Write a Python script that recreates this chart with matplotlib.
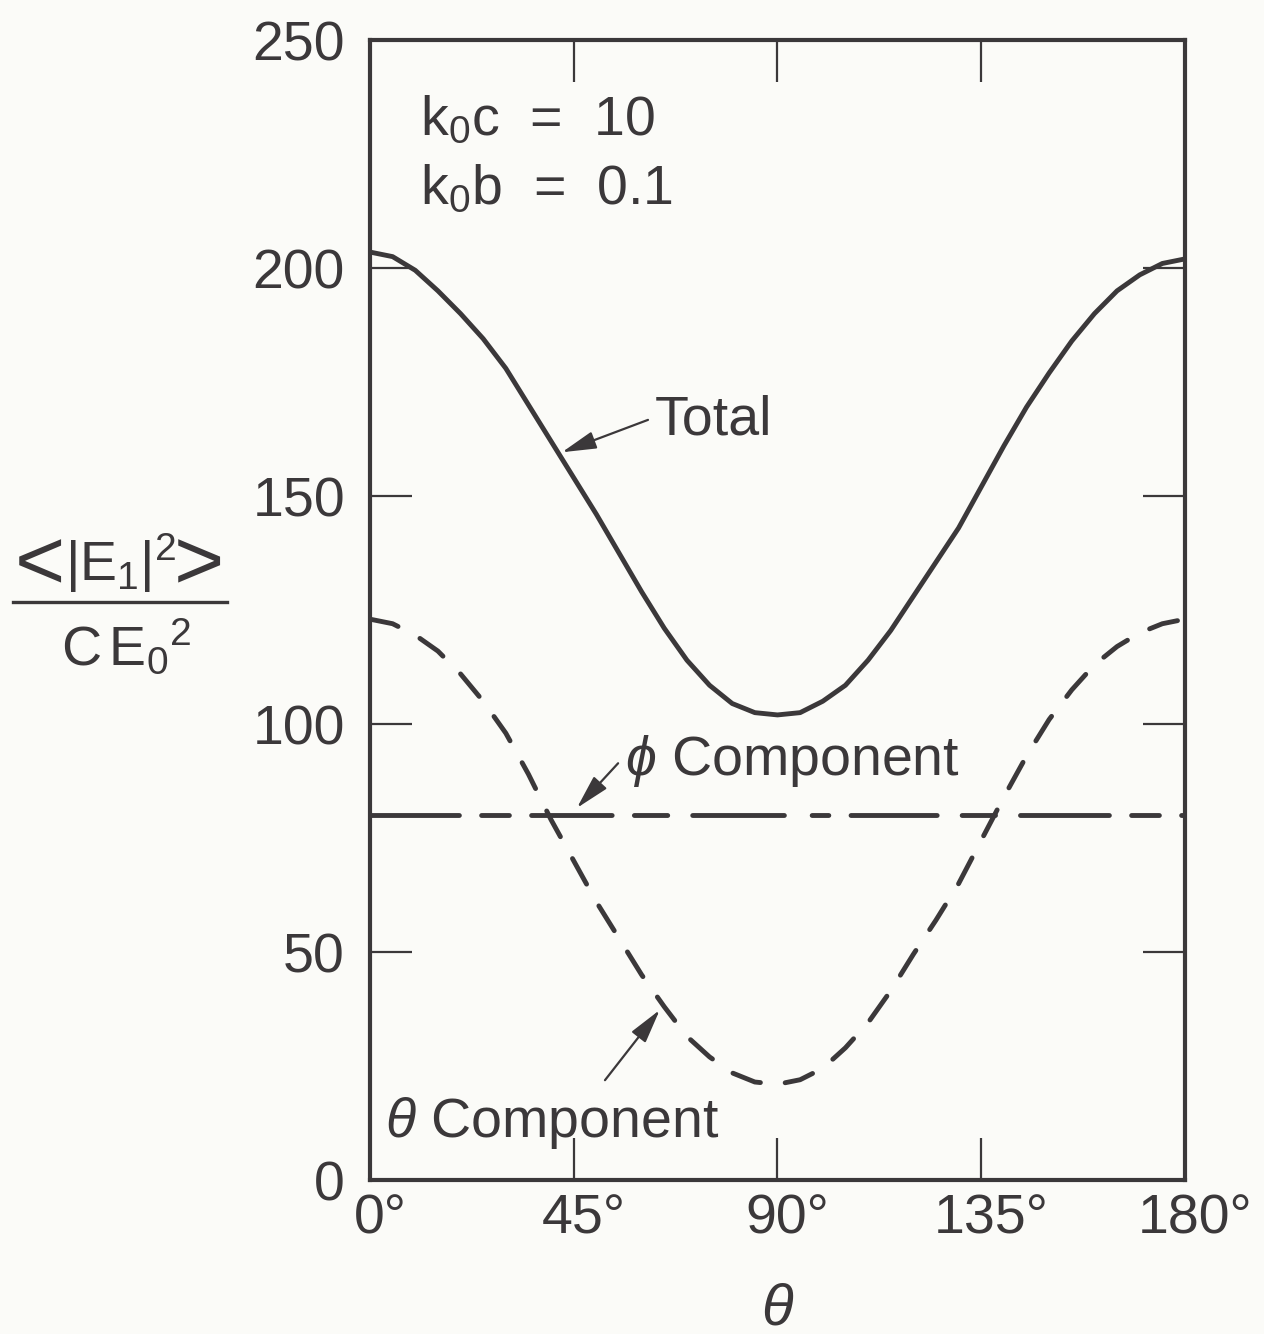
# theta_pattern.py
# Angular dependence of <|E1|^2> / (C E0^2): total, theta and phi components.

from matplotlib import pyplot as plt
from matplotlib.lines import Line2D
from matplotlib.transforms import ScaledTranslation

INK = '#3b383a'
PAPER = '#fbfbf8'

plt.rcParams['font.family'] = ['Liberation Sans', 'DejaVu Sans']
plt.rcParams['mathtext.fontset'] = 'custom'
plt.rcParams['mathtext.rm'] = 'Liberation Sans'
plt.rcParams['mathtext.it'] = 'Liberation Sans:italic'
plt.rcParams['mathtext.fallback'] = 'stixsans'
plt.rcParams['lines.scale_dashes'] = False

# values, every 5 degrees
theta_deg = list(range(0, 181, 5))
total = [203.5, 202.5, 199.5, 195, 190, 184.5, 178, 170, 162, 154,
         146, 137.5, 129, 121, 114, 108.5, 104.5, 102.5, 102,
         102.5, 105, 108.5, 114, 120.5, 128, 135.5, 143, 152, 161,
         169.5, 177, 184, 190, 195, 198.5, 201, 202]
theta_comp = [123, 122, 119.5, 116, 111, 105, 98, 89, 79, 70,
              61, 53, 45, 38, 31.5, 27, 23.5, 21.5, 21,
              22, 24.5, 29, 34.5, 41.5, 49.5, 57, 65, 74.5, 84,
              93, 101, 107.5, 113, 117, 120, 122, 123]
phi_theta = [0, 180]
phi_comp = [80, 80]

x_ticks = [0, 45, 90, 135, 180]
x_labels = ['0°', '45°', '90°', '135°', '180°']
y_ticks = [0, 50, 100, 150, 200, 250]

fig = plt.figure(figsize=(12.64, 13.34), dpi=100, facecolor=PAPER)
ax = fig.add_axes([0.2927, 0.1154, 0.6448, 0.8546], facecolor=PAPER)

ax.plot(theta_deg, total, color=INK, lw=3.5, solid_capstyle='round',
        solid_joinstyle='round')
ax.plot(theta_deg, theta_comp, color=INK, lw=3.5,
        dashes=(21, 18), dash_capstyle='round', dash_joinstyle='round')
ax.plot(phi_theta, phi_comp, color=INK, lw=3.5, dash_capstyle='round',
        dashes=(64, 16, 20, 16, 58, 16, 24, 18, 66, 20, 12, 16, 62, 18, 24, 18))

ax.set_xlim(0, 180)
ax.set_ylim(0, 250)
ax.set_xticks(x_ticks)
ax.set_xticklabels(x_labels)
ax.set_yticks(y_ticks)
ax.tick_params(direction='in', length=30, width=1.6, color=INK,
               top=True, right=True, labelsize=40, labelcolor=INK)
ax.tick_params(axis='y', pad=18)
ax.tick_params(axis='x', pad=10)
for s in ax.spines.values():
    s.set_linewidth(3)
    s.set_color(INK)

# number part of each degree label sits over its tick
shift = ScaledTranslation(10 / 100, 0, fig.dpi_scale_trans)
for lab in ax.get_xticklabels():
    lab.set_transform(lab.get_transform() + shift)

ax.set_xlabel(r'$\theta$', fontsize=42, color=INK, labelpad=26)

# parameter block
ax.text(11, 229, r'k$_0$c  =  10', fontsize=40, color=INK, va='baseline')
ax.text(11, 214, r'k$_0$b  =  0.1', fontsize=40, color=INK, va='baseline')

arrow = dict(arrowstyle='-|>,head_length=0.7,head_width=0.18',
             lw=1.6, color=INK, mutation_scale=30, shrinkA=0, shrinkB=0)
ax.text(63, 163.4, 'Total', fontsize=40, color=INK, va='baseline')
ax.annotate('', xy=(42.4, 159.6), xytext=(61.4, 166.7), arrowprops=arrow)
ax.text(56.3, 88.8, r'$\phi$ Component', fontsize=40, color=INK, va='baseline')
ax.annotate('', xy=(45.7, 81.6), xytext=(54.8, 91.4), arrowprops=arrow)
ax.text(3.3, 9.4, r'$\theta$ Component', fontsize=40, color=INK, va='baseline')
ax.annotate('', xy=(64, 37.3), xytext=(51.9, 21.9), arrowprops=arrow)

# y label written as a fraction
W, H = 1264, 1334
fig.text(15 / W, 1 - 558 / H, '<', fontsize=62, color=INK,
         ha='left', va='center_baseline')
fig.text(121 / W, 1 - 581 / H, r'$|\mathrm{E}_1|^2$', fontsize=40,
         color=INK, ha='center', va='baseline')
fig.text(224 / W, 1 - 558 / H, '>', fontsize=62, color=INK,
         ha='right', va='center_baseline')
fig.add_artist(Line2D([13 / W, 227 / W], [1 - 602 / H, 1 - 602 / H],
                      color=INK, lw=2.4))
fig.text(126 / W, 1 - 665 / H, r'$\mathrm{C\,E}_0{}^2$', fontsize=40,
         color=INK, ha='center', va='baseline')

plt.savefig('out.png', dpi=100, facecolor=PAPER)
